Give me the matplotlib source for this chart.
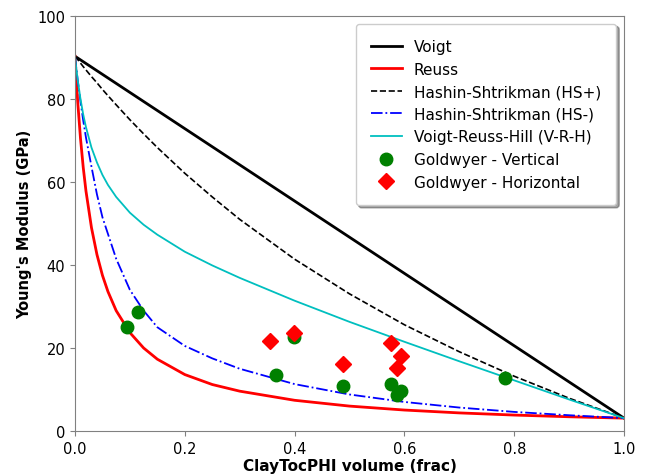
import numpy as np
import matplotlib
matplotlib.use("Agg")
import matplotlib.pyplot as plt

# fraction de argila/toc/phi (eixo x)
frac = [0.0, 0.0025, 0.005, 0.01, 0.015, 0.02, 0.03, 0.04, 0.05, 0.06, 0.075,
        0.1, 0.125, 0.15, 0.2, 0.25, 0.3, 0.4, 0.5, 0.6, 0.7, 0.8, 0.9, 1.0]

# curvas (GPa)
voigt_x = [0.0, 1.0]
voigt = [90.3, 3.1]
reuss = [90.3, 84.4, 79.2, 70.5, 63.5, 57.8, 49.0, 42.5, 37.5, 33.6, 29.0,
         23.7, 20.0, 17.3, 13.6, 11.2, 9.6, 7.4, 6.0, 5.05, 4.36, 3.84, 3.43, 3.1]
hs_mais = [90.3, 89.9, 89.5, 88.65, 87.8, 87.0, 85.4, 83.9, 82.3, 80.8, 78.6,
           75.0, 71.6, 68.3, 62.1, 56.4, 51.0, 41.4, 33.05, 25.6, 19.1, 13.2, 7.9, 3.1]
hs_menos = [90.3, 87.3, 84.5, 79.4, 74.8, 70.7, 63.7, 57.0, 51.5, 47.5, 41.5,
            34.0, 29.0, 25.0, 20.5, 17.5, 15.0, 11.3, 8.8, 7.0, 5.65, 4.6, 3.8, 3.1]
vrh = [90.3, 87.2, 84.5, 80.0, 76.25, 73.2, 68.3, 64.7, 61.7, 59.3, 56.4,
       52.6, 49.7, 47.3, 43.2, 39.9, 36.9, 31.4, 26.3, 21.5, 16.8, 12.2, 7.6, 3.1]

# dados Goldwyer
vert_x = [0.095, 0.115, 0.366, 0.398, 0.489, 0.575, 0.586, 0.593, 0.783]
vert_y = [25.0, 28.7, 13.6, 22.7, 10.9, 11.3, 8.7, 9.7, 12.8]
hor_x = [0.356, 0.398, 0.489, 0.575, 0.586, 0.593]
hor_y = [21.6, 23.5, 16.1, 21.2, 15.2, 18.0]

fig = plt.figure(figsize=(6.46, 4.77), dpi=100)
ax = fig.add_axes([75/646, 45/477, 549/646, 415/477])

ax.plot(voigt_x, voigt, color='black', linewidth=2, label='Voigt')
ax.plot(frac, reuss, color='red', linewidth=2, label='Reuss')
ax.plot(frac, hs_mais, color='black', linestyle='--', linewidth=1.2,
        label='Hashin-Shtrikman (HS+)')
ax.plot(frac, hs_menos, color='blue', linestyle='-.', linewidth=1.3,
        label='Hashin-Shtrikman (HS-)')
ax.plot(frac, vrh, color='c', linewidth=1.3, label='Voigt-Reuss-Hill (V-R-H)')
ax.plot(vert_x, vert_y, 'o', color='green', markersize=9,
        label='Goldwyer - Vertical')
ax.plot(hor_x, hor_y, 'D', color='red', markersize=8,
        label='Goldwyer - Horizontal')

ax.set_xlim(0, 1)
ax.set_ylim(0, 100)
ax.set_xticks(np.arange(0, 1.01, 0.2))
ax.set_yticks(np.arange(0, 101, 20))
ax.tick_params(labelsize=10.5, color='gray')
for sp in ax.spines.values():
    sp.set_color('gray')

ax.set_xlabel('ClayTocPHI volume (frac)', fontsize=11, weight='bold', labelpad=2)
ax.set_ylabel("Young's Modulus (GPa)", fontsize=10.5, weight='bold')

ax.legend(loc='upper right', fontsize=11, shadow=True, framealpha=1,
          borderpad=1.0)

plt.savefig("out.png")
